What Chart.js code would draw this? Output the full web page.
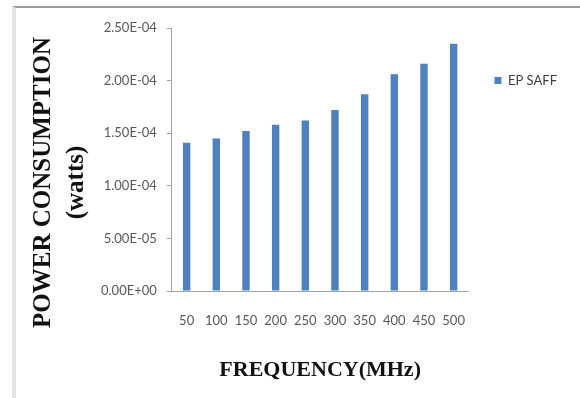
<!DOCTYPE html>
<html>
<head>
<meta charset="utf-8">
<script src="https://cdn.jsdelivr.net/npm/chart.js@4.4.1/dist/chart.umd.min.js"></script>
<style>
  html, body { margin: 0; padding: 0; background: #fff; }
  #wrap { position: relative; width: 580px; height: 398px; overflow: hidden; }
  #frame {
    position: absolute; left: 12px; top: 6px; width: 600px; height: 420px;
    border-left: 4px solid #e3e3e3; border-top: 2px solid #9c9c9c;
  }
  #chart { position: absolute; left: 0; top: 0; }
</style>
</head>
<body>
<div id="wrap">
  <div id="frame"></div>
  <canvas id="chart" width="580" height="398"></canvas>
</div>
<script>
// frequencies on the x axis
const frequencies = ['50', '100', '150', '200', '250', '300', '350', '400', '450', '500'];
// power consumption per frequency (watts)
const epSaff = [1.41e-4, 1.45e-4, 1.52e-4, 1.58e-4, 1.62e-4, 1.72e-4, 1.87e-4, 2.06e-4, 2.16e-4, 2.35e-4];
// y axis ticks
const yTicks = [0, 5e-5, 1e-4, 1.5e-4, 2e-4, 2.5e-4];
const yTitle = ['POWER CONSUMPTION', '(watts)'];

const axisColor = '#9ca2b8';
const tickFont = { family: 'Lato', size: 13 };

// excel style 2.50E-04
const sci = (v) => {
  if (v === 0) return '0.00E+00';
  let [m, e] = v.toExponential(2).toUpperCase().split('E');
  let sign = e[0] === '-' ? '-' : '+';
  let digits = e.replace(/[+-]/, '').padStart(2, '0');
  return m + 'E' + sign + digits;
};

// the y title in the picture sits lower than the axis middle, so draw it by hand
const yTitlePlugin = {
  id: 'yTitle',
  afterLayout: (chart) => {
    //legend sits a bit away from the plot and lower than the top, like excel
    chart.legend.left += 16;
    chart.legend.right += 16;
    chart.legend.top += 36;
  },
  afterDraw: (chart) => {
    const { ctx, chartArea } = chart;
    const cy = (chartArea.top + chartArea.bottom) / 2 + 23;
    ctx.save();
    ctx.fillStyle = '#111';
    ctx.font = 'bold 25px "Liberation Serif"';
    ctx.textAlign = 'center';
    ctx.textBaseline = 'middle';
    [chartArea.left - 128, chartArea.left - 95].forEach((x, i) => {
      ctx.save();
      ctx.translate(x, cy);
      ctx.rotate(-Math.PI / 2);
      ctx.fillText(yTitle[i], 0, 0);
      ctx.restore();
    });
    ctx.restore();
  }
};

new Chart(document.getElementById('chart'), {
  type: 'bar',
  data: {
    labels: frequencies,
    datasets: [
      {
        label: 'EP SAFF',
        data: epSaff,
        backgroundColor: '#4f81bd',
        barPercentage: 0.25,
        categoryPercentage: 1,
      }
    ]
  },
  plugins: [yTitlePlugin],
  options: {
    responsive: false,
    animation: false,
    layout: {
      padding: { left: 91, top: 28, right: 29, bottom: 14 }
    },
    plugins: {
      tooltip: { enabled: false },
      legend: {
        position: 'right',
        align: 'start',
        labels: {
          boxWidth: 7,
          boxHeight: 7,
          padding: 10,
          color: '#404040',
          font: tickFont
        }
      }
    },
    scales: {
      x: {
        grid: { display: false },
        border: { display: true, color: axisColor },
        ticks: {
          color: '#595959',
          font: tickFont,
          padding: 14,
          maxRotation: 0,
          autoSkip: false
        },
        title: {
          display: true,
          text: 'FREQUENCY(MHz)',
          color: '#111',
          font: { family: 'Liberation Serif', size: 22, weight: 'bold' },
          padding: { top: 15, bottom: 0 }
        }
      },
      y: {
        min: 0,
        max: 2.5e-4,
        afterBuildTicks: (scale) => {
          scale.ticks = yTicks.map(v => ({ value: v }));
        },
        grid: {
          drawOnChartArea: false,
          drawTicks: true,
          tickLength: 5,
          color: axisColor
        },
        border: { display: true, color: axisColor },
        ticks: {
          color: '#595959',
          font: tickFont,
          padding: 10,
          callback: (v) => sci(v)
        }
      }
    }
  }
});
</script>
</body>
</html>
